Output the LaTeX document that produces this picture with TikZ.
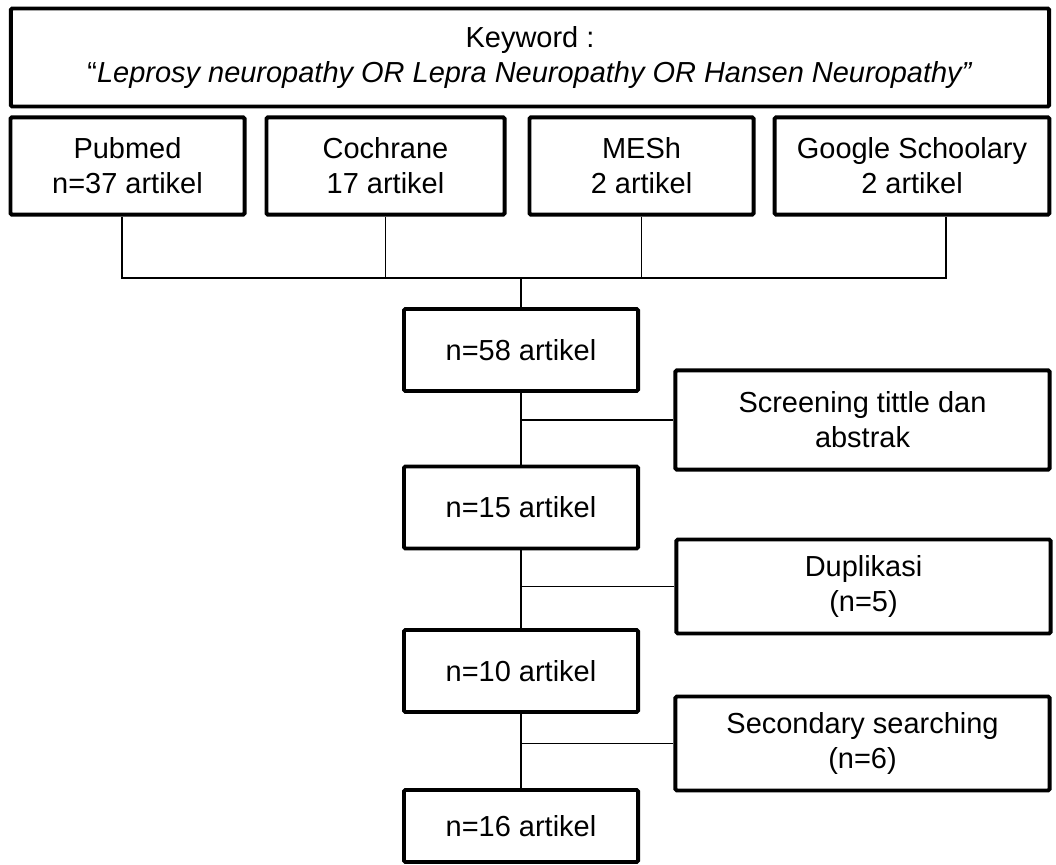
\documentclass[tikz,border=0pt]{standalone}
\usepackage{fontspec}
\setmainfont{Liberation Sans}
\usepackage{tikz}
\usetikzlibrary{positioning, calc}

\begin{document}
\begin{tikzpicture}[x=0.025cm, y=-0.025cm,
      font=\fontsize{20.6}{24.7}\selectfont,
      box/.style={draw, line width=2.8pt, rounded corners=1pt,
                  align=center, inner sep=2pt},
      sbox/.style={box, minimum width=5.85cm, minimum height=2.05cm},
      side/.style={box, minimum width=9.35cm, minimum height=2.35cm},
      link/.style={line width=0.9pt}]
    \useasboundingbox (0,0) rectangle (1056,865);

    % keyword
    \node[box, minimum width=25.95cm, minimum height=2.45cm] (kw) at (530,57.5)
      {Keyword :\\ “\textit{Leprosy neuropathy OR Lepra Neuropathy OR Hansen Neuropathy”}};

    % databases
    \node[box, minimum width=5.85cm, minimum height=2.43cm] (pub)  at (127.5,166) {Pubmed\\ n=37 artikel};
    \node[box, minimum width=5.95cm, minimum height=2.43cm] (coch) at (385.5,166) {Cochrane\\ 17 artikel};
    \node[box, minimum width=5.6cm,  minimum height=2.43cm] (mesh) at (641.5,166) {MESh\\ 2 artikel};
    \node[box, minimum width=6.87cm, minimum height=2.43cm] (gs)   at (912,166)   {Google Schoolary\\ 2 artikel};

    % main flow
    \node[sbox] (n58) at (521,350)   {n=58 artikel};
    \node[sbox] (n15) at (521,507.5) {n=15 artikel};
    \node[sbox] (n10) at (521,671)   {n=10 artikel};
    \node[sbox, minimum height=1.8cm] (n16) at (521,826) {n=16 artikel};

    % side steps
    \node[side, minimum height=2.48cm] (scr) at (862.5,420)   {Screening tittle dan\\ abstrak};
    \node[side] (dup) at (863.5,586.5) {Duplikasi\\ (n=5)};
    \node[side] (sec) at (862.5,743.5) {Secondary searching\\ (n=6)};

    \coordinate (bus) at (521,278);
    \coordinate (pubx) at ([xshift=-0.14cm]pub.south);
    \coordinate (gsx) at ([xshift=0.85cm]gs.south);

    \draw[link] (pubx) |- (gsx |- bus) -- (gsx);
    \draw[link] (coch.south) -- (coch.south |- bus);
    \draw[link] (mesh.south) -- (mesh.south |- bus);
    \draw[link] (bus) -- (n58.north);

    \draw[link] (n58.south) -- (n15.north);
    \draw[link] (n15.south) -- (n10.north);
    \draw[link] (n10.south) -- (n16.north);

    \draw[link] (scr.west) -- (scr.west -| n58.south);
    \draw[link] (dup.west) -- (dup.west -| n15.south);
    \draw[link] (sec.west) -- (sec.west -| n10.south);
  \end{tikzpicture}
\end{document}
